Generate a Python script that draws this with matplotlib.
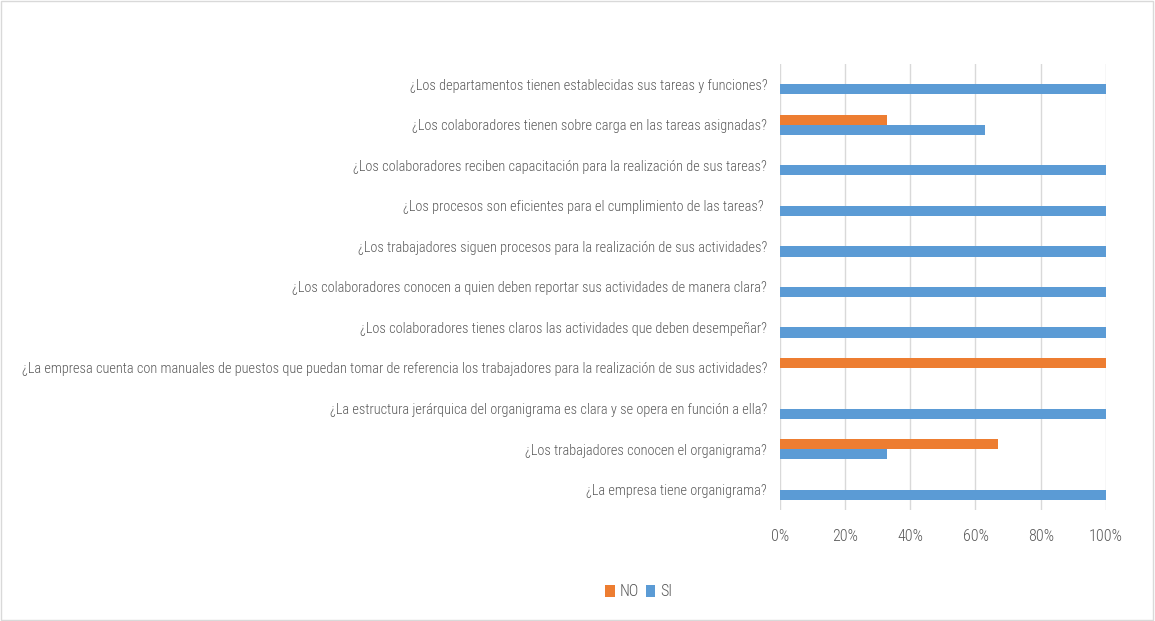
import matplotlib
matplotlib.use("Agg")
import matplotlib.pyplot as plt
import numpy as np
from matplotlib.ticker import FuncFormatter
from matplotlib.patches import Rectangle

categories = [
    "¿La empresa tiene organigrama?",
    "¿Los trabajadores conocen el organigrama?",
    "¿La estructura jerárquica del organigrama es clara y se opera en función a ella?",
    "¿La empresa cuenta con manuales de puestos que puedan tomar de referencia los trabajadores para la realización de sus actividades?",
    "¿Los colaboradores tienes claros las actividades que deben desempeñar?",
    "¿Los colaboradores conocen a quien deben reportar sus actividades de manera clara?",
    "¿Los trabajadores siguen procesos para la realización de sus actividades?",
    "¿Los procesos son eficientes para el cumplimiento de las tareas? ",
    "¿Los colaboradores reciben capacitación para la realización de sus tareas?",
    "¿Los colaboradores tienen sobre carga en las tareas asignadas?",
    "¿Los departamentos tienen establecidas sus tareas y funciones?",
]
si_values = [1.00, 0.33, 1.00, 0.00, 1.00, 1.00, 1.00, 1.00, 1.00, 0.63, 1.00]
no_values = [0.00, 0.67, 0.00, 1.00, 0.00, 0.00, 0.00, 0.00, 0.00, 0.33, 0.00]
xticks = [0, 0.2, 0.4, 0.6, 0.8, 1.0]

plt.rcParams['font.family'] = ['Roboto Condensed', 'DejaVu Sans']
plt.rcParams['font.stretch'] = 'condensed'
plt.rcParams['font.weight'] = 'light'
text_color = '#595959'
fs = 11.5
fs_y = 10.4

fig = plt.figure(figsize=(11.55, 6.21), dpi=100)
ax = fig.add_axes([0.675, 0.179, 0.2826, 0.718])

y = np.arange(len(categories))
h = 0.25
ax.barh(y - h/2, si_values, height=h, color='#5B9BD5', label='SI', zorder=3)
ax.barh(y + h/2, no_values, height=h, color='#ED7D31', label='NO', zorder=3)

ax.set_ylim(-0.5, len(categories) - 0.5)
ax.set_xlim(0, 1.0)
ax.set_xticks(xticks)
ax.xaxis.set_major_formatter(FuncFormatter(lambda v, p: f"{int(round(v*100))}%"))
ax.set_yticks(y)
ax.set_yticklabels(categories)
ax.tick_params(axis='x', length=0, labelsize=fs, colors=text_color, pad=14)
ax.tick_params(axis='y', length=0, labelsize=fs_y, colors=text_color, pad=9)
ax.grid(axis='x', color='#D9D9D9', linewidth=1, zorder=0)
for s in ax.spines.values():
    s.set_visible(False)

handles, labels = ax.get_legend_handles_labels()
leg = fig.legend(handles[::-1], labels[::-1], loc='center', bbox_to_anchor=(0.553, 0.047),
                 ncol=2, frameon=False, fontsize=fs, handlelength=0.6, handleheight=0.8,
                 handletextpad=0.3, columnspacing=0.45)
for t in leg.get_texts():
    t.set_color(text_color)

fig.patches.append(Rectangle((0.001, 0.002), 0.997, 0.996, transform=fig.transFigure,
                             fill=False, edgecolor='#D9D9D9', linewidth=1))

fig.savefig('out.png', dpi=100)
